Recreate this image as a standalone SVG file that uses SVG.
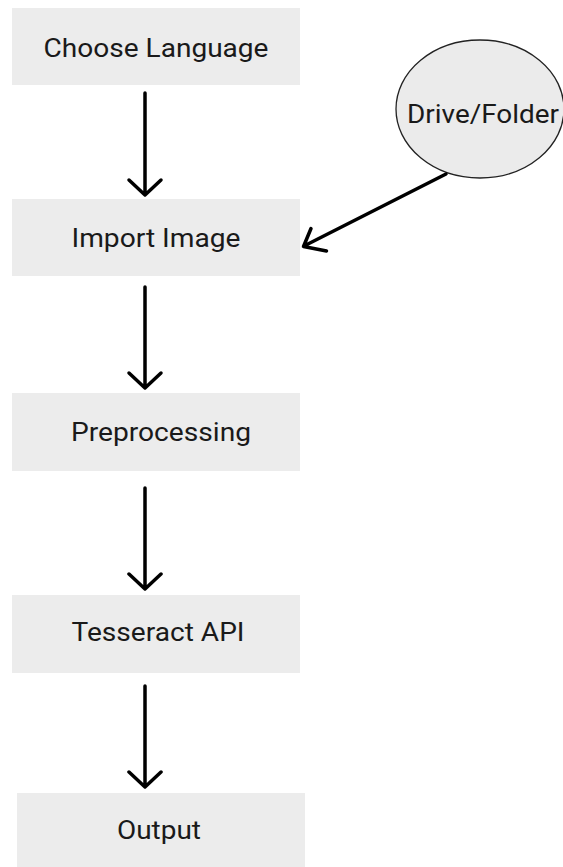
<svg xmlns="http://www.w3.org/2000/svg" width="563" height="867" viewBox="0 0 563 867">
<style>
.box{fill:#ececec}
.lbl{font-family:Roboto,"Liberation Sans",sans-serif;font-size:26px;fill:#1a1a1a;text-anchor:middle}
.edge{stroke:#000;stroke-width:3.5;fill:none;stroke-linecap:round;stroke-linejoin:round}
</style>
<rect width="563" height="867" fill="#fff"/>
<g id="choose-language">
<rect class="box" x="12" y="8" width="288" height="77"/>
<text class="lbl" x="156" y="56.5" textLength="225" lengthAdjust="spacingAndGlyphs">Choose Language</text>
</g>
<g id="drive-folder">
<ellipse cx="480" cy="109" rx="84" ry="69" fill="#ebebeb" stroke="#222" stroke-width="1.3"/>
<text class="lbl" x="483" y="123" textLength="152" lengthAdjust="spacingAndGlyphs">Drive/Folder</text>
</g>
<g id="import-image">
<rect class="box" x="12" y="199" width="288" height="77"/>
<text class="lbl" x="156" y="247.3" textLength="169" lengthAdjust="spacingAndGlyphs">Import Image</text>
</g>
<g id="preprocessing">
<rect class="box" x="12" y="393" width="288" height="78"/>
<text class="lbl" x="161" y="440.7" textLength="180" lengthAdjust="spacingAndGlyphs">Preprocessing</text>
</g>
<g id="tesseract-api">
<rect class="box" x="12" y="595" width="288" height="78"/>
<text class="lbl" x="158" y="641" textLength="173" lengthAdjust="spacingAndGlyphs">Tesseract API</text>
</g>
<g id="output">
<rect class="box" x="17" y="793" width="288" height="74"/>
<text class="lbl" x="159" y="839.3" textLength="84" lengthAdjust="spacingAndGlyphs">Output</text>
</g>
<g id="connectors">
<path class="edge" d="M145 93 V194 M129 180 L145 195 L161 180"/>
<path class="edge" d="M145 287 V387 M129 373 L145 388 L161 373"/>
<path class="edge" d="M145 488 V588 M129 574 L145 589 L161 574"/>
<path class="edge" d="M145 686 V786 M129 772 L145 787 L161 772"/>
<path class="edge" d="M446 174 L304 246 M311 228.5 L303.5 246.5 L326.5 251"/>
</g>
</svg>
